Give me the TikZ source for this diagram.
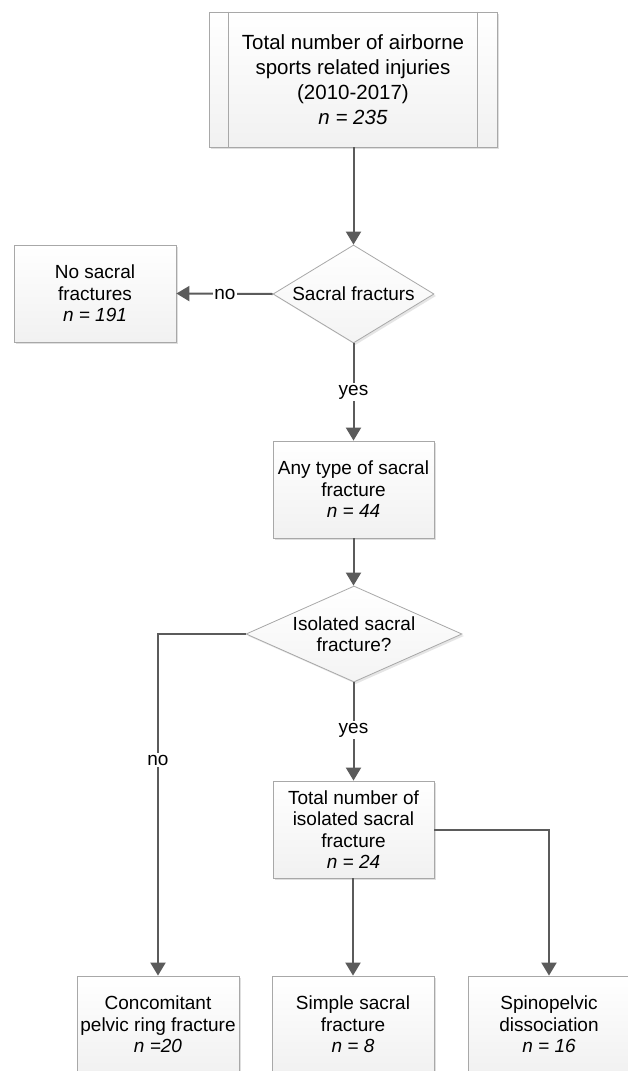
\documentclass[tikz,border=0pt]{standalone}
\usepackage{fontspec}
\setmainfont{Liberation Sans}
\usetikzlibrary{shapes.geometric,arrows.meta,shadows}
\definecolor{linegray}{HTML}{5B5B5B}
\definecolor{bordergray}{HTML}{A8A8A8}
\begin{document}
\begin{tikzpicture}[x=1pt,y=-1pt,
  boxstyle/.style={draw=bordergray, line width=0.8pt, top color=white, bottom color=gray!11,
    drop shadow={shadow xshift=2pt, shadow yshift=-2pt, opacity=0.25, fill=gray},
    minimum width=161pt, minimum height=97pt, inner sep=0pt, align=center,
    font=\fontsize{19}{21.5}\selectfont},
  decstyle/.style={draw=bordergray, line width=0.8pt, shape=diamond, top color=white, bottom color=gray!9,
    drop shadow={shadow xshift=2pt, shadow yshift=-2pt, opacity=0.2, fill=gray},
    inner sep=0pt, align=center, font=\fontsize{19}{21.5}\selectfont},
  arr/.style={draw=linegray, line width=2pt, -{Triangle[length=13pt,width=15pt]}},
  conn/.style={draw=linegray, line width=2pt},
  lbl/.style={fill=white, inner sep=1.5pt, font=\fontsize{19}{21.5}\selectfont}
]
\useasboundingbox (0,0) rectangle (628,1071);
\fill[white] (0,0) rectangle (628,1071);

% nodes
\node[boxstyle, minimum width=288pt, minimum height=135pt, font=\fontsize{20.5}{25}\selectfont] (top) at (353,79.5)
  {Total number of airborne\\sports related injuries\\(2010-2017)\\\textit{n = 235}};
\draw[bordergray, line width=0.8pt] ([xshift=20pt]top.north west) -- ([xshift=20pt]top.south west);
\draw[bordergray, line width=0.8pt] ([xshift=-20pt]top.north east) -- ([xshift=-20pt]top.south east);

\node[decstyle, minimum width=161pt, minimum height=98pt, aspect=1.65] (d1) at (353.5,294) {Sacral fracturs};
\node[boxstyle, minimum width=162pt] (nosac) at (95,293.5) {No sacral\\fractures\\\textit{n = 191}};
\node[boxstyle] (any) at (353.5,489.5) {Any type of sacral\\fracture\\\textit{n = 44}};
\node[decstyle, minimum width=216pt, minimum height=96pt, aspect=2.25] (d2) at (354,634) {Isolated sacral\\fracture?};
\node[boxstyle] (iso) at (353.5,829.5) {Total number of\\isolated sacral\\fracture\\\textit{n = 24}};
\node[boxstyle, minimum width=162pt] (conc) at (158,1024.5) {Concomitant\\pelvic ring fracture\\\textit{n =20}};
\node[boxstyle, minimum width=162pt] (simple) at (353,1024.5) {Simple sacral\\fracture\\\textit{n = 8}};
\node[boxstyle, minimum width=162pt] (spino) at (549,1024.5) {Spinopelvic\\dissociation\\\textit{n = 16}};

% connectors
\draw[arr] (top.south -| d1.north) -- (d1.north);
\draw[arr] (d1.west) -- (nosac.east);
\node[lbl] (lno1) at (225,294) {no};
\draw[arr] (d1.south) -- (any.north);
\node[lbl] (lyes1) at (353.5,392) {yes};
\draw[arr] (any.south) -- (d2.north -| any.south);
\coordinate (lcorner) at (158,634);
\draw[arr] (d2.west) -- (lcorner) -- (conc.north);
\node[lbl] (lno2) at (158,760) {no};
\draw[arr] (d2.south -| iso.north) -- (iso.north);
\node[lbl] (lyes2) at (353.5,730) {yes};
\draw[arr] (iso.south -| simple.north) -- (simple.north);
\coordinate (rcorner) at (549,830);
\draw[arr] (iso.east |- rcorner) -- (rcorner) -- (spino.north);
\end{tikzpicture}
\end{document}
